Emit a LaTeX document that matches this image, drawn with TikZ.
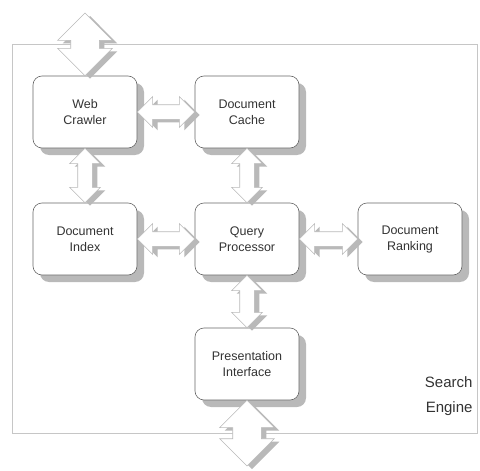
\documentclass[tikz,border=0pt]{standalone}
\usepackage{fontspec}
\setmainfont{Liberation Sans}
\usetikzlibrary{shapes.arrows,shadows,calc}

\tikzset{
  module/.style={draw=gray!80!black, line width=0.6pt, fill=white,
    rounded corners=9pt, minimum width=104pt, minimum height=72pt,
    align=center, text=black!80, font=\fontsize{12.5}{16}\selectfont,
    general shadow={fill=gray!55, shadow xshift=7pt, shadow yshift=-7pt}},
  link/.style={double arrow, draw=gray!55, line width=0.6pt, fill=white,
    inner sep=7pt, double arrow head extend=8pt,
    general shadow={fill=gray!55, shadow xshift=5pt, shadow yshift=-3pt}},
  biglink/.style={link, inner sep=14pt, double arrow head extend=13pt},
  frame/.style={draw=gray!45, line width=0.8pt},
}

% fat double arrow spanning two anchors
\newcommand\fatlink[3][link]{%
  \path let \p1=($(#2)-(#3)$), \n1={veclen(\x1,\y1)} in
    node[#1, minimum height=\n1, rotate={atan2(\y1,\x1)}]
      at ($(#2)!0.5!(#3)$) {};}

\begin{document}
\begin{tikzpicture}[x=1pt, y=-1pt]
  \useasboundingbox (0,0) rectangle (480,471);

  % enclosing system boundary
  \draw[frame] (12,44) rectangle (477,433);

  % modules
  \node[module] (wc) at (85,112)  {Web\\Crawler};
  \node[module] (dc) at (247,112) {Document\\Cache};
  \node[module] (di) at (85,239)  {Document\\Index};
  \node[module] (qp) at (247,239) {Query\\Processor};
  \node[module] (dr) at (410,239) {Document\\Ranking};
  \node[module] (pi) at (247,364) {Presentation\\Interface};

  % outside world
  \coordinate (web) at (85,13);
  \coordinate (user) at (247,466);

  % links between modules
  \fatlink[biglink]{web}{wc.north}
  \fatlink{wc.east}{dc.west}
  \fatlink{wc.south}{di.north}
  \fatlink{dc.south}{qp.north}
  \fatlink{di.east}{qp.west}
  \fatlink{qp.east}{dr.west}
  \fatlink{qp.south}{pi.north}
  \fatlink[biglink]{pi.south}{user}

  \node[anchor=east, align=right, text=black!80,
        font=\fontsize{15}{25}\selectfont] (se) at (476,396) {Search\\Engine};
\end{tikzpicture}
\end{document}
